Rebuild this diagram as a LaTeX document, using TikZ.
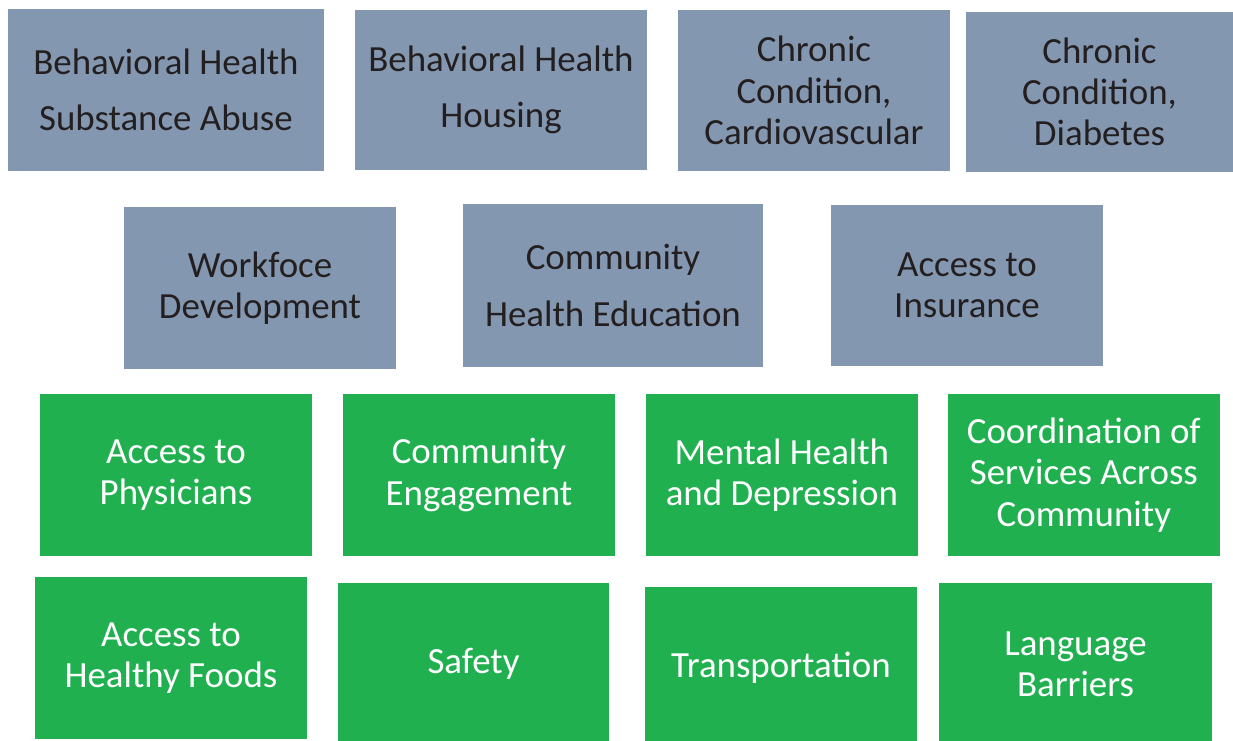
\documentclass[tikz,border=0pt]{standalone}
\usepackage{fontspec}
\setmainfont{Carlito}
\usetikzlibrary{positioning}
\definecolor{slate}{HTML}{8497B0}
\definecolor{leaf}{HTML}{21B050}
\definecolor{ink}{HTML}{231F20}

\begin{document}
\begin{tikzpicture}[x=0.02cm, y=-0.02cm, every node/.style={rectangle, inner sep=0pt, outer sep=0pt, align=center, minimum width=5.44cm, minimum height=3.24cm, font=\fontsize{21}{23.5}\selectfont},
    issue/.style={fill=slate, text=ink},
    need/.style={fill=leaf, text=white},
    wide/.style={font=\fontsize{21}{32}\selectfont}]
    \useasboundingbox (0,0) rectangle (1233,740);
    % top rows
    \node[issue, wide, minimum width=6.32cm] (substance) at (166,90) {Behavioral Health\\Substance Abuse};
    \node[issue, wide, minimum width=5.84cm, minimum height=3.2cm] (housing) at (501,90) {Behavioral Health\\Housing};
    \node[issue] (cardio) at (814,90.5) {Chronic\\Condition,\\Cardiovascular};
    \node[issue, minimum width=5.34cm, minimum height=3.2cm] (diabetes) at (1099.5,92) {Chronic\\Condition,\\Diabetes};
    \node[issue] (workforce) at (260,288) {Workfoce\\Development};
    \node[issue, wide, minimum width=6cm, minimum height=3.26cm] (education) at (613,285.5) {Community\\Health Education};
    \node[issue] (insurance) at (967,285.5) {Access to\\Insurance};
    % green rows
    \node[need] (physicians) at (176,475) {Access to\\Physicians};
    \node[need, right=0.62cm of physicians] (engagement) {Community\\Engagement};
    \node[need, right=0.62cm of engagement] (mental) {Mental Health\\and Depression};
    \node[need, right=0.6cm of mental] (coordination) {Coordination of\\Services Across\\Community};
    \node[need] (foods) at (171,658) {Access to\\Healthy Foods};
    \node[need, minimum width=5.42cm] (safety) at (473.5,664) {Safety};
    \node[need] (transport) at (781,668) {Transportation};
    \node[need, minimum width=5.46cm] (language) at (1075.5,664) {Language\\Barriers};
\end{tikzpicture}
\end{document}
